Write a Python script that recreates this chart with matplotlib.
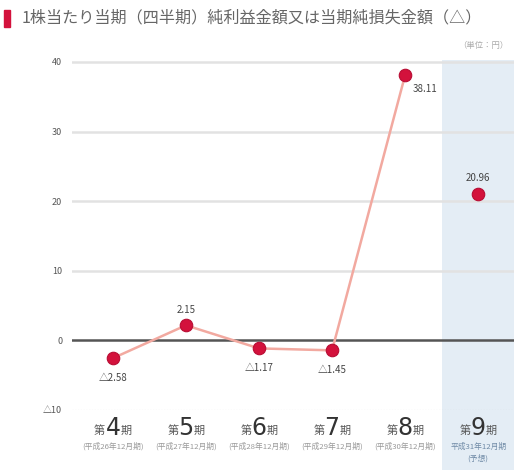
import matplotlib.pyplot as plt
from matplotlib.patches import Rectangle

plt.rcParams['font.family'] = ['Noto Sans CJK JP', 'DejaVu Sans']

periods = ["4", "5", "6", "7", "8", "9"]
sub_labels = ["(平成26年12月期)", "(平成27年12月期)", "(平成28年12月期)",
              "(平成29年12月期)", "(平成30年12月期)", "平成31年12月期\n(予想)"]
eps = [-2.58, 2.15, -1.17, -1.45, 38.11]
forecast = 20.96
yticks = [-10, 0, 10, 20, 30, 40]
ytick_labels = ["△10", "0", "10", "20", "30", "40"]

fig = plt.figure(figsize=(5.14, 4.70), dpi=100)
ax = fig.add_axes([0.140, 0.128, 0.860, 0.755])

x = list(range(len(periods)))

# forecast band, runs down behind the period labels
ax.axvspan(4.5, 5.5, ymin=-0.17, ymax=0.985, color='#e4edf5', zorder=0,
           clip_on=False, lw=0)

for v in [10, 20, 30, 40]:
    ax.axhline(v, color='#e2e2e2', lw=1.8, zorder=1)
ax.axhline(-10, color='#bbbbbb', lw=0.8, ls=(0, (1, 1.5)), zorder=1)
ax.axhline(0, color='#555555', lw=1.8, zorder=2)

ax.plot(x[:5], eps, color='#f2a9a0', lw=1.8, zorder=3)
ax.plot(x[:5], eps, 'o', ms=9, mfc='#d3123c', mec='#b80c33', mew=0.8, zorder=4)
ax.plot([x[5]], [forecast], 'o', ms=9, mfc='#d3123c', mec='#b80c33', mew=0.8,
        zorder=4)


def fmt(v):
    return ("△%.2f" % -v) if v < 0 else "%.2f" % v


for i, v in enumerate(eps):
    if i == 4:
        ax.annotate(fmt(v), (x[i], v), xytext=(14, -10), textcoords='offset points',
                    ha='center', va='center', fontsize=7, color='#444444')
    elif v >= 0:
        ax.annotate(fmt(v), (x[i], v), xytext=(0, 11), textcoords='offset points',
                    ha='center', va='center', fontsize=7, color='#444444')
    else:
        ax.annotate(fmt(v), (x[i], v), xytext=(0, -14), textcoords='offset points',
                    ha='center', va='center', fontsize=7, color='#444444')
ax.annotate(fmt(forecast), (x[5], forecast), xytext=(0, 12),
            textcoords='offset points', ha='center', va='center', fontsize=7,
            color='#444444')

ax.set_xlim(-0.56, 5.49)
ax.set_ylim(-10, 41)
ax.set_yticks(yticks)
ax.set_yticklabels(ytick_labels, fontsize=6.5, color='#555555')
ax.tick_params(axis='y', length=0, pad=7)
ax.set_xticks([])
for s in ax.spines.values():
    s.set_visible(False)

# period labels under the axis
for i, p in enumerate(periods):
    ax.annotate(p, (x[i], 0), xycoords=('data', 'axes fraction'), xytext=(0, -13),
                textcoords='offset points', ha='center', va='center',
                fontsize=17, color='#333333', family='DejaVu Sans')
    ax.annotate("第", (x[i], 0), xycoords=('data', 'axes fraction'),
                xytext=(-5.5, -15), textcoords='offset points', ha='right',
                va='center', fontsize=8, color='#555555')
    ax.annotate("期", (x[i], 0), xycoords=('data', 'axes fraction'),
                xytext=(5.5, -15), textcoords='offset points', ha='left',
                va='center', fontsize=8, color='#555555')
    col = '#6f8aa6' if i == 5 else '#999999'
    ax.annotate(sub_labels[i], (x[i], 0), xycoords=('data', 'axes fraction'),
                xytext=(0, -23.5), textcoords='offset points', ha='center',
                va='top', fontsize=5.6, color=col, linespacing=1.5)

# title
fig.patches.append(Rectangle((0.008, 0.942), 0.012, 0.037,
                             transform=fig.transFigure, color='#d3123c'))
fig.text(0.042, 0.961, "1株当たり当期（四半期）純利益金額又は当期純損失金額（△）",
         fontsize=11.6, color='#666666', va='center', ha='left')
fig.text(0.99, 0.903, "（単位：円）", fontsize=6, color='#aaaaaa', ha='right',
         va='center')

fig.savefig('out.png', dpi=100)
